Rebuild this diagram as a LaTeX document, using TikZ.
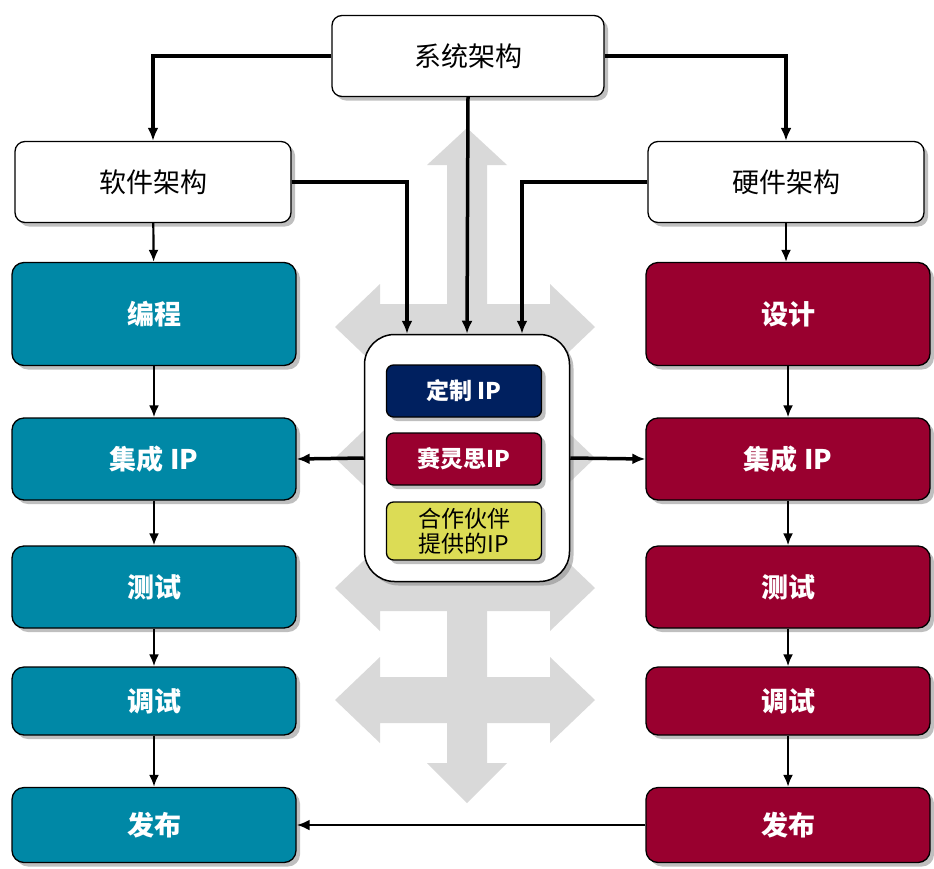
\documentclass[tikz,border=0pt]{standalone}
\usepackage{fontspec}
\setmainfont{Noto Sans CJK SC}
\usepackage{tikz}
\usetikzlibrary{arrows.meta, shadows, positioning}
\definecolor{swteal}{HTML}{0088A6}
\definecolor{hwred}{HTML}{99002F}
\definecolor{ipnavy}{HTML}{00205F}
\definecolor{ipyellow}{HTML}{DCDC55}
\definecolor{bggray}{HTML}{D9D9D9}
\tikzset{
    boxshadow/.style={
        drop shadow={shadow xshift=4pt, shadow yshift=-4pt, fill=black!50}
    },
    archblock/.style={
        rectangle,
        draw,
        line width=1.3pt,
        fill=white,
        rounded corners=10pt,
        boxshadow,
        inner sep=0pt,
        minimum width=272pt,
        minimum height=81pt,
        font=\fontsize{27}{30}\selectfont
    },
    swblock/.style={
        rectangle,
        draw,
        line width=1.3pt,
        fill=swteal,
        text=white,
        rounded corners=12pt,
        boxshadow,
        inner sep=0pt,
        minimum width=284pt,
        font=\fontsize{27}{30}\selectfont\bfseries
    },
    hwblock/.style={
        swblock,
        fill=hwred
    },
    ipblock/.style={
        rectangle,
        draw,
        line width=1.3pt,
        rounded corners=7pt,
        boxshadow,
        inner sep=0pt,
        minimum width=155pt,
        minimum height=52pt,
        align=center,
        font=\fontsize{23}{25}\selectfont
    },
    connector/.style={
        -{Latex[length=13pt,width=11pt]},
        line width=3.5pt
    },
    thin connector/.style={
        -{Latex[length=12pt,width=10pt]},
        line width=2.2pt
    }
}

\begin{document}
\begin{tikzpicture}[x=1pt,y=-1pt]
\useasboundingbox (0,0) rectangle (934,868);

% background arrows
\fill[bggray] (467,128) -- (507,165) -- (487,165) -- (487,763) -- (507,763)
    -- (467,803) -- (427,763) -- (447,763) -- (447,165) -- (427,165) -- cycle;
\foreach \y in {327,458,588,700}{
    \fill[bggray] (335,\y) -- (380,{\y-43}) -- (380,{\y-23}) -- (550,{\y-23})
        -- (550,{\y-43}) -- (595,\y) -- (550,{\y+43}) -- (550,{\y+23})
        -- (380,{\y+23}) -- (380,{\y+43}) -- cycle;
}

% architecture
\node[archblock] (sys) at (468,56) {系统架构};
\node[archblock, minimum width=276pt] (sw) at (153,182) {软件架构};
\node[archblock, minimum width=276pt] (hw) at (786,182) {硬件架构};

% software column
\node[swblock, minimum height=103pt] (swprog) at (154,314) {编程};
\node[swblock, minimum height=82pt] (swip) at (154,459) {集成 IP};
\node[swblock, minimum height=82pt] (swtest) at (154,587) {测试};
\node[swblock, minimum height=68pt] (swdebug) at (154,701) {调试};
\node[swblock, minimum height=75pt] (swrel) at (154,825) {发布};

% hardware column
\node[hwblock, minimum height=103pt] (hwdes) at (788,314) {设计};
\node[hwblock, minimum height=82pt] (hwip) at (788,459) {集成 IP};
\node[hwblock, minimum height=82pt] (hwtest) at (788,587) {测试};
\node[hwblock, minimum height=68pt] (hwdebug) at (788,701) {调试};
\node[hwblock, minimum height=75pt] (hwrel) at (788,825) {发布};

% ip sources
\node[draw, line width=1.5pt, fill=white, rounded corners=30pt, boxshadow,
    minimum width=205pt, minimum height=247pt] (core) at (467,458) {};
\node[ipblock, fill=ipnavy, text=white, font=\fontsize{23}{25}\selectfont\bfseries]
    (ipcustom) at (464,391) {定制 IP};
\node[ipblock, fill=hwred, text=white, font=\fontsize{23}{25}\selectfont\bfseries]
    (ipxil) at (464,459) {赛灵思IP};
\node[ipblock, fill=ipyellow, minimum height=58pt] (ippart) at (464,531)
    {合作伙伴\\提供的IP};

\draw[connector] (sys.west) -| (sw.north);
\draw[connector] (sys.east) -| (hw.north);
\draw[connector] (sys.south) -- (core.north);
\draw[connector] (sw.east) -| ([xshift=-60pt]core.north);
\draw[connector] (hw.west) -| ([xshift=55pt]core.north);
\draw[connector] (core.west) -- (swip.east);
\draw[connector] (core.east) -- (hwip.west);

\draw[thin connector] (sw) -- (swprog);
\draw[thin connector] (hw.south) -- (hw.south |- hwdes.north);
\foreach \a/\b in {swprog/swip, swip/swtest, swtest/swdebug, swdebug/swrel,
    hwdes/hwip, hwip/hwtest, hwtest/hwdebug, hwdebug/hwrel}{
    \draw[thin connector] (\a) -- (\b);
}
\draw[connector, line width=2.8pt] (hwrel.west) -- (swrel.east);

\end{tikzpicture}
\end{document}
